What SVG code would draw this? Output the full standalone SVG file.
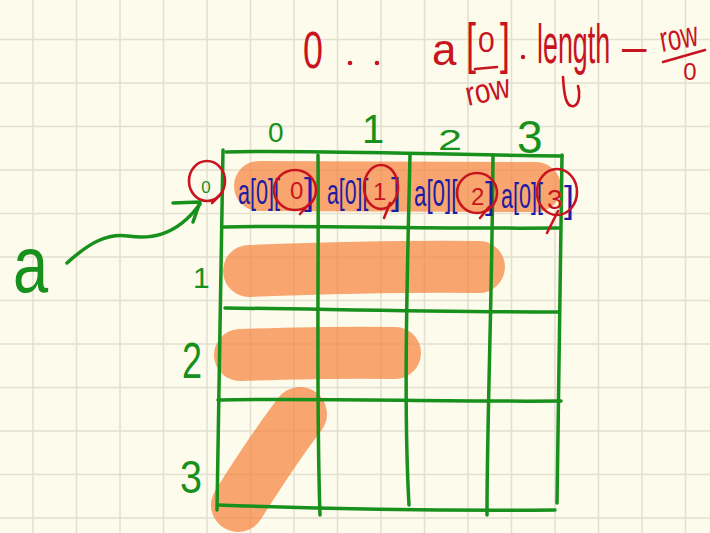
<svg xmlns="http://www.w3.org/2000/svg" width="710" height="533" viewBox="0 0 710 533">
<style>
.bgl{stroke:#e3e0cf;stroke-width:1.5;fill:none}
.g{stroke:#17901c;stroke-width:3.5;fill:none;stroke-linecap:round;stroke-linejoin:round}
.hl{stroke:#f5803a;stroke-opacity:0.7;stroke-linecap:round;fill:none}
.r{stroke:#c8141e;stroke-width:2.6;fill:none;stroke-linecap:round}
.gt{fill:#17901c;font-family:"Liberation Sans",Arial,sans-serif}
.bt{fill:#1c1ca6;font-family:"Liberation Sans",Arial,sans-serif;font-size:36px}
.rt{fill:#c8141e;font-family:"Liberation Sans",Arial,sans-serif}
</style>
<rect width="710" height="533" fill="#fdfbec"/>
<path class="bgl" d="M33,0V533M76.5,0V533M120,0V533M163.5,0V533M207,0V533M250.5,0V533M294,0V533M337.5,0V533M381,0V533M424.5,0V533M468,0V533M511.5,0V533M555,0V533M598.5,0V533M642,0V533M685.5,0V533M0,39.5H710M0,83H710M0,126.5H710M0,170H710M0,213.5H710M0,257H710M0,300.5H710M0,344H710M0,387.5H710M0,431H710M0,474.5H710M0,518H710"/>
<g id="highlights">
<path class="hl" stroke-width="50" d="M259,186 L536,187"/>
<path class="hl" stroke-width="52" d="M249,271 C330,268 400,266 479,267"/>
<path class="hl" stroke-width="52" d="M240,355 C300,353 350,352 395,353"/>
<path class="hl" stroke-width="54" d="M300,414 C280,440 260,470 238,505"/>
</g>
<g id="table">
<path class="g" d="M226,152 C300,150 400,154 562,156"/>
<path class="g" d="M224,227 C320,225 420,229 559,228"/>
<path class="g" d="M225,308 C320,309 430,312 558,312"/>
<path class="g" d="M218,400 C320,398 450,402 561,401"/>
<path class="g" d="M218,505 C300,508 420,511 555,510"/>
<path class="g" d="M223,150 C221,250 219,400 217,510"/>
<path class="g" d="M318,155 C319,250 316,400 320,515"/>
<path class="g" d="M410,155 C408,250 403,400 409,505"/>
<path class="g" d="M493,155 C492,300 487,420 487,515"/>
<path class="g" d="M562,155 C560,300 558,420 557,503"/>
</g>
<g id="col-labels">
<text class="gt" x="268" y="142" font-size="28">0</text>
<text class="gt" x="362" y="143" font-size="40">1</text>
<text class="gt" x="438" y="150" font-size="30" textLength="24" lengthAdjust="spacingAndGlyphs">2</text>
<text class="gt" x="517" y="153" font-size="46">3</text>
</g>
<g id="row-labels">
<text class="gt" x="206" y="193" font-size="17" text-anchor="middle">0</text>
<ellipse class="r" cx="207" cy="181" rx="18" ry="20"/>
<path class="r" d="M221,194 L212,203"/>
<text class="gt" x="193" y="288" font-size="30">1</text>
<text class="gt" transform="translate(182,378) scale(0.72,1)" font-size="50">2</text>
<text class="gt" transform="translate(180,493) scale(0.86,1)" font-size="46">3</text>
</g>
<g id="label-a">
<text class="gt" transform="translate(13,292) scale(0.79,1)" font-size="80">a</text>
</g>
<g id="connectors">
<path class="g" d="M67,263 C90,242 108,233 128,236 S175,238 200,204"/>
<polyline class="g" points="173,203 200,202 193,222"/>
</g>
<g id="cell-0">
<text class="bt" transform="translate(238,204) scale(0.6,1)">a[0][</text>
<text class="rt" x="290" y="199" font-size="24">0</text>
<text class="bt" x="304" y="204">]</text>
<ellipse class="r" cx="295" cy="190" rx="21" ry="20"/>
<path class="r" d="M309,204 L300,214"/>
</g>
<g id="cell-1">
<text class="bt" transform="translate(327,204) scale(0.59,1)">a[0][</text>
<text class="rt" x="373" y="200" font-size="24">1</text>
<text class="bt" x="391" y="204">]</text>
<ellipse class="r" cx="381" cy="187" rx="17" ry="22"/>
<path class="r" d="M390,203 L384,218"/>
</g>
<g id="cell-2">
<text class="bt" transform="translate(414,206) scale(0.62,1)">a[0][</text>
<text class="rt" x="471" y="205" font-size="24">2</text>
<text class="bt" x="485" y="208">]</text>
<ellipse class="r" cx="477" cy="193" rx="20" ry="20"/>
<path class="r" d="M489,207 L480,218"/>
</g>
<g id="cell-3">
<text class="bt" transform="translate(501,208) scale(0.6,1)">a[0][</text>
<text class="rt" x="547" y="209" font-size="28">3</text>
<text class="bt" x="564" y="212">]</text>
<ellipse class="r" cx="557" cy="192" rx="20" ry="23"/>
<path class="r" d="M558,211 L547,233"/>
</g>
<g id="annotation">
<text class="rt" transform="translate(303,68) scale(0.69,1)" font-size="52">0</text>
<circle cx="350" cy="63" r="2.3" fill="#c8141e"/>
<circle cx="377" cy="63" r="2.3" fill="#c8141e"/>
<text class="rt" x="432" y="65" font-size="44">a</text>
<text class="rt" transform="translate(466,62) scale(0.64,1)" font-size="56">[</text>
<text class="rt" x="478" y="52" font-size="30">0</text>
<text class="rt" transform="translate(500,62) scale(0.64,1)" font-size="56">]</text>
<path class="r" d="M475,69 L497,67"/>
<circle cx="523" cy="57" r="2.2" fill="#c8141e"/>
<text class="rt" transform="translate(537,63) scale(0.48,1)" font-size="56">length</text>
<path class="r" d="M563,77 C564,95 566,108 574,106 C580,104 580,92 578,86"/>
<text class="rt" x="622" y="62" font-size="44">–</text>
<text class="rt" transform="translate(662,52) rotate(-10) scale(0.66,1)" font-size="36">row</text>
<path class="r" d="M663,62 L705,50"/>
<text class="rt" x="690" y="80" font-size="24" text-anchor="middle">0</text>
<text class="rt" transform="translate(468,106) rotate(-12) scale(0.82,1)" font-size="34">row</text>
</g>
</svg>
